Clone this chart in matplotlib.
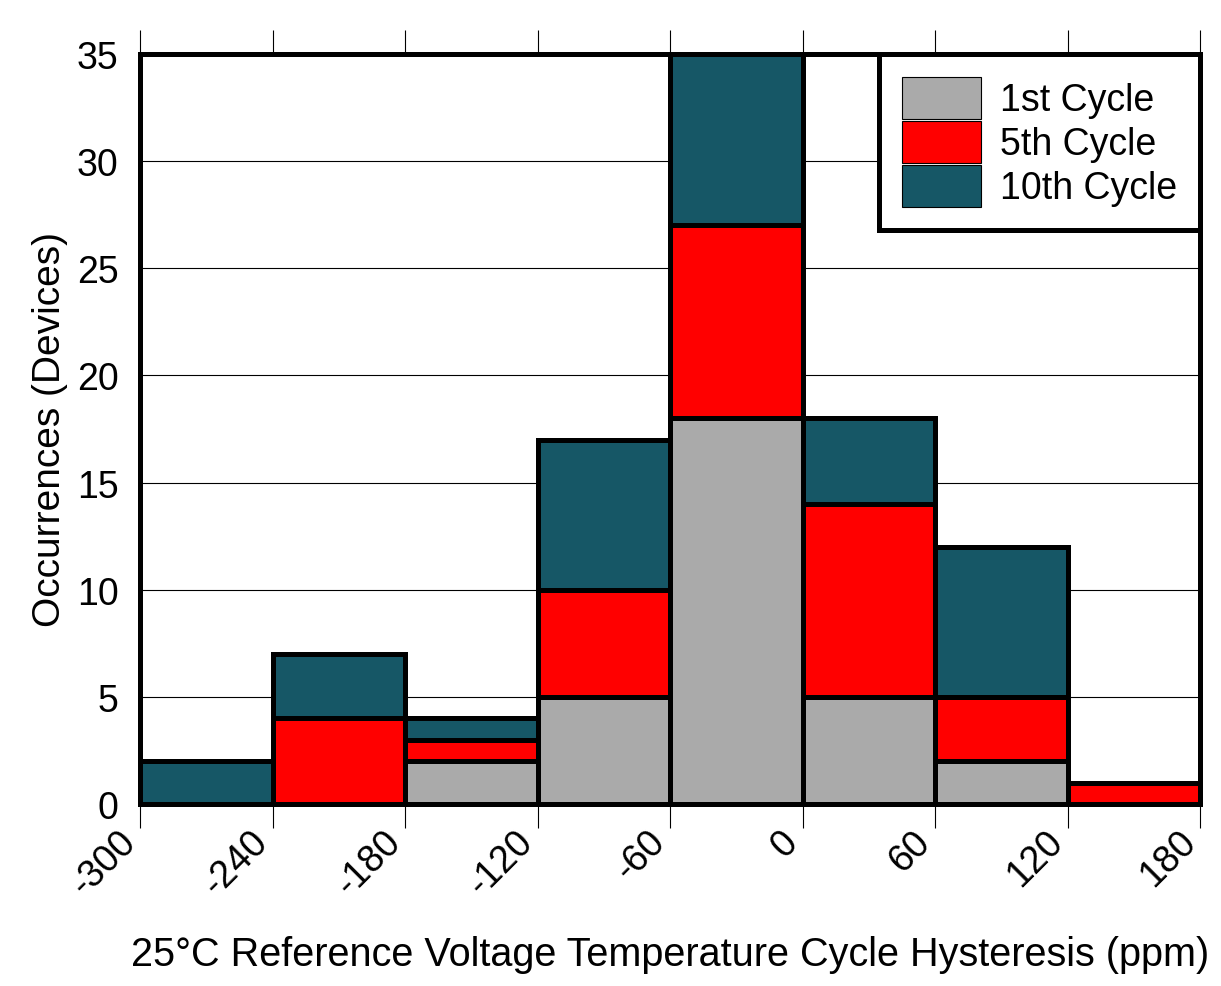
import numpy as np
import matplotlib
matplotlib.use("Agg")
import matplotlib.pyplot as plt
import matplotlib.transforms as mtransforms

plt.rcParams['font.family'] = ['Liberation Sans', 'DejaVu Sans']
plt.rcParams['axes.unicode_minus'] = False

# bin edges (ppm) and counts per cycle
bin_left = [-300, -240, -180, -120, -60, 0, 60, 120]
bin_width = 60
cycle_1 = [0, 0, 2, 5, 18, 5, 2, 0]
cycle_5 = [0, 4, 1, 5, 9, 9, 3, 1]
cycle_10 = [2, 3, 1, 7, 8, 4, 7, 0]
series_names = ["1st Cycle", "5th Cycle", "10th Cycle"]
series_colors = ["#AAAAAA", "#FF0000", "#165766"]
x_ticks = [-300, -240, -180, -120, -60, 0, 60, 120, 180]
y_ticks = [0, 5, 10, 15, 20, 25, 30, 35]

fig = plt.figure(figsize=(12.21, 9.87), dpi=100)
ax = fig.add_axes([0.1147, 0.1844, 0.8681, 0.7599])

bottom = np.zeros(len(bin_left))
for name, vals, col in zip(series_names, [cycle_1, cycle_5, cycle_10], series_colors):
    vals = np.array(vals, dtype=float)
    ax.bar(bin_left, vals, width=bin_width, bottom=bottom, align='edge',
           color=col, edgecolor='black', linewidth=3.6, label=name, zorder=3)
    bottom += vals

ax.set_xlim(-300, 180)
ax.set_ylim(0, 35)
ax.set_xticks(x_ticks)
ax.set_yticks(y_ticks)
ax.grid(axis='y', color='black', linewidth=0.8, zorder=0)
ax.set_axisbelow(True)

for s in ax.spines.values():
    s.set_linewidth(3.6)
    s.set_zorder(5)

ax.tick_params(axis='x', top=True, bottom=True, direction='out', length=17,
               width=0.8, labelsize=27, pad=6)
ax.tick_params(axis='y', left=False, labelsize=27, pad=12)
# nudge the rotated x labels a bit to the left, like the original
shift = mtransforms.ScaledTranslation(-10 / 100, 0, fig.dpi_scale_trans)
for lbl in ax.get_xticklabels():
    lbl.set_rotation(45)
    lbl.set_ha('right')
    lbl.set_va('center')
    lbl.set_rotation_mode('anchor')
    lbl.set_transform(lbl.get_transform() + shift)

ax.set_ylabel("Occurrences (Devices)", fontsize=28, labelpad=6)
ax.set_xlabel("25°C Reference Voltage Temperature Cycle Hysteresis (ppm)",
              fontsize=28.5, labelpad=24)

leg = ax.legend(loc='upper right', bbox_to_anchor=(1, 1), borderaxespad=0,
                fontsize=27, frameon=True, fancybox=False, framealpha=1,
                handlelength=2.1, handleheight=1.32, labelspacing=0.07,
                handletextpad=0.5, borderpad=0.62)
frame = leg.get_frame()
frame.set_edgecolor('black')
frame.set_linewidth(3.6)
for h in leg.legend_handles:
    h.set_linewidth(0.8)
leg.set_zorder(6)

fig.savefig("out.png", dpi=100)
